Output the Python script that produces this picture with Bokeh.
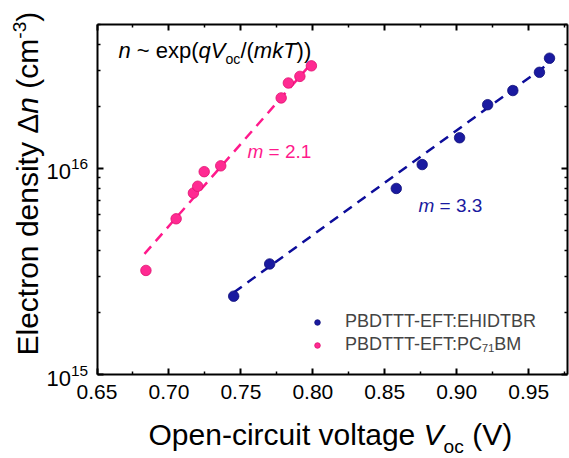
import math
from bokeh.plotting import figure
from bokeh.models import (LinearAxis, LogAxis, FixedTicker, PrintfTickFormatter,
                          Label, Legend, LegendItem, Range1d)
from bokeh.embed import file_html
from bokeh.resources import INLINE

# ---------------- data ----------------
ehidtbr_voc = [0.745, 0.770, 0.858, 0.876, 0.902, 0.9215, 0.939, 0.9575, 0.9645]
ehidtbr_n = [2.40e15, 3.44e15, 8.0e15, 1.045e16, 1.41e16, 2.04e16, 2.39e16, 2.93e16, 3.43e16]
pc71_voc = [0.684, 0.705, 0.717, 0.720, 0.7245, 0.736, 0.778, 0.783, 0.791, 0.799]
pc71_n = [3.2e15, 5.7e15, 7.6e15, 8.2e15, 9.65e15, 1.03e16, 2.2e16, 2.6e16, 2.8e16, 3.15e16]
fit_ehidtbr_voc = [0.745, 0.967]
fit_ehidtbr_n = [2.5e15, 3.35e16]
fit_pc71_voc = [0.683, 0.800]
fit_pc71_n = [3.85e15, 3.3e16]
x_ticks = [0.65, 0.70, 0.75, 0.80, 0.85, 0.90, 0.95]
x_minor = [0.675, 0.725, 0.775, 0.825, 0.875, 0.925, 0.975]
y_ticks = [1e15, 1e16]
y_minor = [2e15, 3e15, 4e15, 5e15, 6e15, 7e15, 8e15, 9e15, 2e16, 3e16, 4e16, 5e16]
x_limits = (0.65, 0.977)
y_limits = (1e15, 5e16)
series_labels = ["PBDTTT-EFT:EHIDTBR", "PBDTTT-EFT:PC\u2087\u2081BM"]

BLUE = "#1A1AA0"
BLUE_LINE = "#0D0D9A"
PINK = "#FF2A92"
PINK_LINE = "#FF1A8C"
FONT = "Liberation Sans"

# ---------------- layout (pixels) ----------------
CW, CH = 569, 458
BOX_L, BOX_R, BOX_T, BOX_B = 96.5, 567.0, 24.0, 374.0

# the frame fills the whole canvas; the axes sit at fixed data locations
ppx = (BOX_R - BOX_L) / (x_limits[1] - x_limits[0])
x_start = x_limits[0] - BOX_L / ppx
x_end = x_limits[1] + (CW - BOX_R) / ppx
ly0, ly1 = math.log10(y_limits[0]), math.log10(y_limits[1])
ppd = (BOX_B - BOX_T) / (ly1 - ly0)
y_start = 10 ** (ly0 - (CH - BOX_B) / ppd)
y_end = 10 ** (ly1 + BOX_T / ppd)

p = figure(width=CW, height=CH, y_axis_type="log",
           x_range=Range1d(x_start, x_end), y_range=Range1d(y_start, y_end),
           x_axis_location=None, y_axis_location=None,
           output_backend="svg", toolbar_location=None,
           min_border_left=0, min_border_right=0, min_border_top=0, min_border_bottom=0)
p.grid.visible = False
p.outline_line_color = None
p.background_fill_color = "white"
p.border_fill_color = "white"


def style_axis(ax, show_labels):
    ax.axis_line_width = 2
    ax.axis_line_color = "black"
    ax.major_tick_in = 6
    ax.major_tick_out = 0
    ax.minor_tick_in = 3
    ax.minor_tick_out = 0
    ax.major_tick_line_width = 2
    ax.minor_tick_line_width = 1.5
    if show_labels:
        ax.major_label_text_font = FONT
        ax.major_label_text_color = "black"
    else:
        ax.major_label_text_font_size = "0px"
        ax.major_label_text_color = None
        ax.major_label_standoff = 0


bottom = LinearAxis(ticker=FixedTicker(ticks=x_ticks, minor_ticks=x_minor),
                    formatter=PrintfTickFormatter(format="%.2f"),
                    fixed_location=y_limits[0], bounds=x_limits)
style_axis(bottom, True)
bottom.major_label_text_font_size = "21px"
bottom.major_label_standoff = 10
p.add_layout(bottom, "below")

left = LogAxis(ticker=FixedTicker(ticks=y_ticks, minor_ticks=y_minor),
               fixed_location=x_limits[0], bounds=y_limits)
style_axis(left, True)
left.major_label_text_font_size = "22px"
left.major_label_standoff = 9
p.add_layout(left, "left")

top = LinearAxis(ticker=FixedTicker(ticks=x_ticks, minor_ticks=x_minor),
                 fixed_location=y_limits[1], bounds=x_limits)
style_axis(top, False)
p.add_layout(top, "above")

right = LogAxis(ticker=FixedTicker(ticks=y_ticks, minor_ticks=y_minor),
                fixed_location=x_limits[1], bounds=y_limits)
style_axis(right, False)
p.add_layout(right, "right")

# fit lines
p.line(fit_pc71_voc, fit_pc71_n, line_color=PINK_LINE, line_width=2.5, line_dash="10 7")
p.line(fit_ehidtbr_voc, fit_ehidtbr_n, line_color=BLUE_LINE, line_width=2.5, line_dash="10 7")

# data points
r_blue = p.scatter(ehidtbr_voc, ehidtbr_n, marker="circle", size=10.5,
                   fill_color=BLUE, line_color="#10107A", line_width=0.8)
r_pink = p.scatter(pc71_voc, pc71_n, marker="circle", size=10.5,
                   fill_color=PINK, line_color="#E0106F", line_width=0.8)

legend = Legend(items=[LegendItem(label=series_labels[0], renderers=[r_blue]),
                       LegendItem(label=series_labels[1], renderers=[r_pink])],
                location=(310, CH - 355), glyph_width=14, glyph_height=20,
                label_standoff=21, padding=0, spacing=2, margin=0,
                label_text_font=FONT, label_text_font_size="18px",
                border_line_color=None, background_fill_alpha=0)
p.add_layout(legend)

# ---------------- rich text helper ----------------
W = {' ': 278, '(': 333, ')': 333, '-': 333, '.': 278, '/': 278, ':': 278, '=': 584, '~': 584,
     'A': 667, 'B': 667, 'C': 722, 'D': 722, 'E': 667, 'F': 611, 'H': 722, 'I': 278,
     'M': 833, 'O': 778, 'P': 667, 'R': 722, 'T': 611, 'V': 667,
     'a': 556, 'c': 500, 'd': 556, 'e': 556, 'g': 556, 'i': 222, 'k': 500, 'l': 222,
     'm': 833, 'n': 556, 'o': 556, 'p': 556, 'q': 556, 'r': 333, 's': 500, 't': 278,
     'u': 556, 'v': 500, 'x': 500, 'y': 500, '\u0394': 668}
BASE_FIX = 0.32  # renderer places the alphabetic baseline this much (em) lower


def text_width(s, size):
    return sum(W.get(ch, 556) for ch in s) * size / 1000.0


def rich(x0, y0, segs, size, color, vertical=False):
    pos = 0.0
    for txt, italic, kind in segs:
        fs = size if kind == "n" else size * 0.64
        if kind == "n":
            shift = 0.0
        elif kind == "sub":
            shift = size * 0.26
        else:
            shift = -size * 0.38
        shift -= BASE_FIX * fs
        lead = len(txt) - len(txt.lstrip(" "))
        core = txt.strip(" ")
        off = pos + text_width(" " * lead, fs)
        if core:
            if vertical:
                lx, ly, ang = x0 + shift, y0 - off, math.pi / 2
            else:
                lx, ly, ang = x0 + off, y0 + shift, 0.0
            p.add_layout(Label(x=lx, y=ly, x_units="canvas", y_units="canvas", text=core,
                               angle=ang, text_font=FONT, text_font_size=f"{fs:.1f}px",
                               text_font_style="italic" if italic else "normal",
                               text_color=color, text_baseline="alphabetic",
                               text_align="left"))
        pos += text_width(txt, fs)


# axis titles
rich(148, 444, [("Open-circuit voltage ", False, "n"), ("V", True, "n"),
                ("oc", False, "sub"), (" (V)", False, "n")], 30, "black")
rich(37, 355, [("Electron density ", False, "n"), ("\u0394", False, "n"), ("n", True, "n"),
               (" (cm", False, "n"), ("-3", False, "sup"), (")", False, "n")], 30, "black",
     vertical=True)
# annotations
rich(118, 57, [("n", True, "n"), (" ~ exp(", False, "n"), ("qV", True, "n"),
               ("oc", False, "sub"), ("/(", False, "n"), ("mkT", True, "n"), ("))", False, "n")],
     22, "black")
rich(247, 157, [("m", True, "n"), (" = 2.1", False, "n")], 19, PINK_LINE)
rich(418, 211, [("m", True, "n"), (" = 3.3", False, "n")], 19, BLUE)

open("out.html", "w").write(file_html(p, INLINE))
